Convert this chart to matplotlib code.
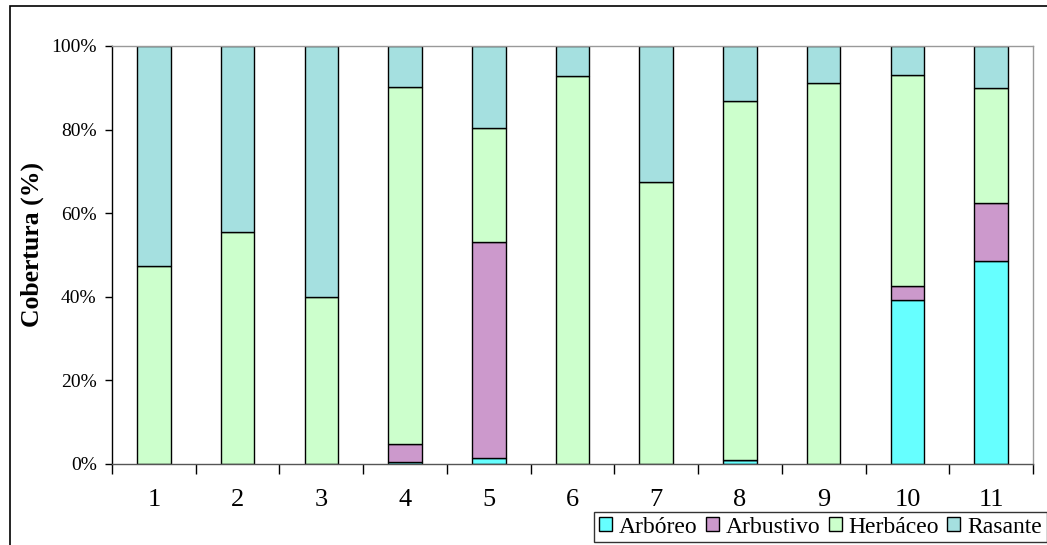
import matplotlib
matplotlib.use("Agg")
import matplotlib.pyplot as plt
from matplotlib.patches import Rectangle
from matplotlib.ticker import FixedLocator, NullFormatter

plt.rcParams['font.family'] = ['Liberation Serif', 'DejaVu Serif']

# Cover share (%) of each vegetation stratum per sampling site
sites = ['1', '2', '3', '4', '5', '6', '7', '8', '9', '10', '11']
arboreo = [0.0, 0.0, 0.0, 0.4, 1.5, 0.0, 0.0, 1.0, 0.0, 39.3, 48.6]
arbustivo = [0.0, 0.0, 0.0, 4.5, 51.6, 0.0, 0.0, 0.0, 0.0, 3.4, 13.8]
herbaceo = [47.4, 55.5, 40.0, 85.3, 27.4, 92.8, 67.5, 85.8, 91.1, 50.3, 27.6]
rasante = [52.6, 44.5, 60.0, 9.8, 19.5, 7.2, 32.5, 13.2, 8.9, 7.0, 10.0]

series = [
    ('Arbóreo', arboreo, '#66FFFF'),
    ('Arbustivo', arbustivo, '#CC99CC'),
    ('Herbáceo', herbaceo, '#CCFFCC'),
    ('Rasante', rasante, '#A5E0E0'),
]

W, H = 1047, 545
fig = plt.figure(figsize=(W / 100, H / 100), dpi=100)

# outer chart frame
fig.patches.append(Rectangle((10 / W, -0.2), 1.3, 1.2 - 6 / H,
                             transform=fig.transFigure, fill=False,
                             edgecolor='black', linewidth=1.2))

ax = fig.add_axes([112 / W, 1 - 464 / H, (1033 - 112) / W, (464 - 46) / H])

x = list(range(1, len(sites) + 1))
bottom = [0.0] * len(sites)
handles = []
for name, vals, color in series:
    h = ax.bar(x, vals, width=0.4, bottom=bottom, color=color,
               edgecolor='black', linewidth=1.0, label=name)
    handles.append(h)
    bottom = [b + v for b, v in zip(bottom, vals)]

ax.set_xlim(0.5, len(sites) + 0.5)
ax.set_ylim(0, 100)

ax.set_yticks([0, 20, 40, 60, 80, 100])
ax.set_yticklabels(['0%', '20%', '40%', '60%', '80%', '100%'], fontsize=14)
ax.tick_params(axis='y', direction='out', length=5, width=1, pad=6,
               colors='black')

ax.set_xticks(x)
ax.set_xticklabels(sites, fontsize=19)
ax.tick_params(axis='x', which='major', length=0, pad=18)
ax.xaxis.set_minor_locator(FixedLocator([i + 0.5 for i in range(0, len(sites) + 1)]))
ax.xaxis.set_minor_formatter(NullFormatter())
ax.tick_params(axis='x', which='minor', direction='out', length=7, width=1,
               color='black')

ax.set_ylabel('Cobertura (%)', fontsize=18.5, fontweight='bold',
              va='center')
ax.yaxis.set_label_coords(-0.087, 0.525)

ax.spines['left'].set_color('black')
ax.spines['bottom'].set_color('#555555')
ax.spines['top'].set_color('#999999')
ax.spines['right'].set_color('#999999')
for s in ax.spines.values():
    s.set_linewidth(1.0)

leg = fig.legend(handles=handles, labels=[s[0] for s in series],
                 loc='upper left', bbox_to_anchor=(594 / W, 1 - 512 / H),
                 ncol=4, fontsize=17, frameon=True, fancybox=False,
                 handlelength=0.55, handleheight=0.55, handletextpad=0.3,
                 columnspacing=0.35, borderpad=0.2, borderaxespad=0)
leg.get_frame().set_edgecolor('black')
leg.get_frame().set_linewidth(1.0)

fig.savefig('out.png', dpi=100)
